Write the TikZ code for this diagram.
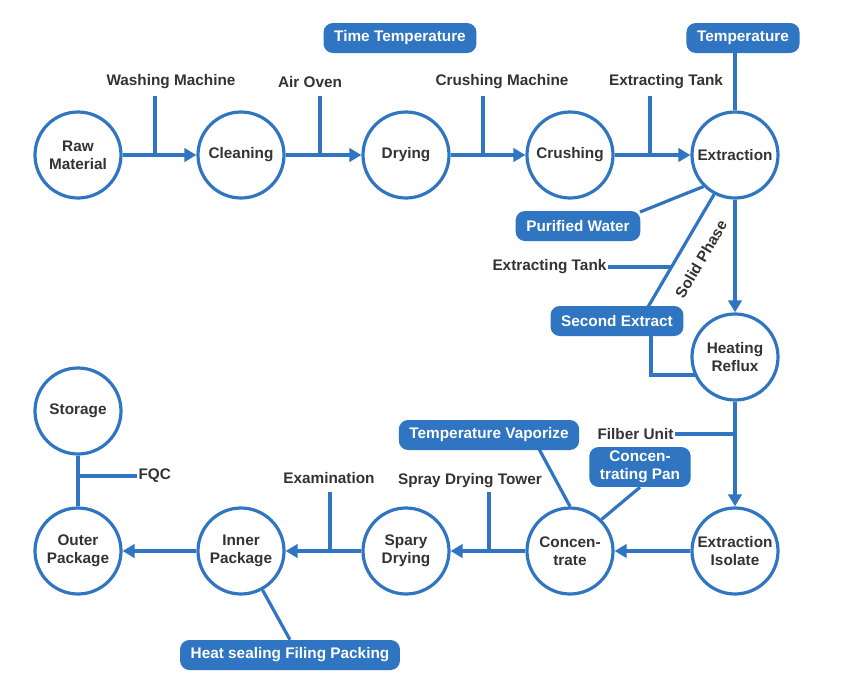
\documentclass[tikz,border=0pt]{standalone}
\usepackage{fontspec}
\setmainfont{Liberation Sans}
\usetikzlibrary{arrows.meta}
\definecolor{bl}{HTML}{2F75C1}
\definecolor{tx}{HTML}{333333}
\begin{document}
\begin{tikzpicture}[x=0.75pt,y=-0.75pt,
  st/.style={circle,draw=bl,line width=2.4pt,minimum size=86*0.75pt,inner sep=0pt,align=center,font=\bfseries\fontsize{11.5}{13.5}\selectfont,text=tx,fill=white},
  bx/.style={rounded corners=7pt,fill=bl,text=white,font=\bfseries\fontsize{11.5}{13.5}\selectfont,inner xsep=8pt,minimum height=30*0.75pt,align=center},
  lb/.style={font=\bfseries\fontsize{11.5}{13.5}\selectfont,text=tx,inner sep=1pt},
  ln/.style={draw=bl,line width=2.4pt},
  ar/.style={ln,-{Triangle[length=9pt,width=10pt]}}]
\useasboundingbox (0,0) rectangle (843,697);
\node[st] (raw) at (78,155) {Raw\\Material};
\node[st] (cle) at (241,155) {Cleaning};
\node[st] (dry) at (406,155) {Drying};
\node[st] (cru) at (570,155) {Crushing};
\node[st] (ext) at (735,155) {Extraction};
\node[st] (hea) at (735,357) {Heating\\Reflux};
\node[st] (iso) at (735,551) {Extraction\\Isolate};
\node[st] (con) at (570,551) {Concen-\\trate};
\node[st] (spa) at (406,551) {Spary\\Drying};
\node[st] (inn) at (241,551) {Inner\\Package};
\node[st] (out) at (78,551) {Outer\\Package};
\node[st] (sto) at (78,411) {Storage};
\node[bx] (tt) at (400,38) {Time Temperature};
\node[bx] (tmp) at (743,38) {Temperature};
\node[bx] (pw) at (578,226) {Purified Water};
\node[bx] (se) at (617,321) {Second Extract};
\node[bx] (tv) at (489,435) {Temperature Vaporize};
\node[bx,minimum height=0pt,inner ysep=3pt] (cp) at (640,467) {Concen-\\trating Pan};
\node[bx] (hs) at (290,655) {Heat sealing Filing Packing};
\node[lb] (wm) at (171,82) {Washing Machine};
\node[lb] (ao) at (310,82) {Air Oven};
\node[lb] (cm) at (502,82) {Crushing Machine};
\node[lb] (et1) at (666,82) {Extracting Tank};
\node[lb,anchor=east] (et2) at (608,267) {Extracting Tank};
\node[lb,anchor=east] (fu) at (675,434) {Filber Unit};
\node[lb] (sdt) at (470,481) {Spray Drying Tower};
\node[lb] (exa) at (329,478) {Examination};
\node[lb,anchor=west] (fqc) at (137,476) {FQC};
\node[lb,rotate=59.6] (sph) at (701,259) {Solid Phase};
\draw[ar] (raw) -- (cle);
\draw[ar] (cle) -- (dry);
\draw[ar] (dry) -- (cru);
\draw[ar] (cru) -- (ext);
\draw[ar] (ext) -- (hea);
\draw[ar] (hea) -- (iso);
\draw[ar] (iso) -- (con);
\draw[ar] (con) -- (spa);
\draw[ar] (spa) -- (inn);
\draw[ar] (inn) -- (out);
\draw[ln] (sto) -- (out);
\draw[ln] (155,96) -- (155,155);
\draw[ln] (320,96) -- (320,155);
\draw[ln] (483,96) -- (483,155);
\draw[ln] (650,96) -- (650,155);
\draw[ln] (tmp.south -| ext) -- (ext);
\coordinate (pwt) at (640,212);
\draw[ln] (pwt) -- (ext.south west);
\coordinate (sp) at (648,307);
\draw[ln] (ext.-118) -- (sp);
\draw[ln] (et2.east) -- (671,267);
\draw[ln] (651,335) |- (hea.west |- 0,375) -- ++(5,0);
\draw[ln] (fu.east) -- (735,434);
\coordinate (tvb) at (539,449);
\draw[ln] (tvb) -- (con.north);
\draw[ln] (cp.south) -- (con.north east);
\draw[ln] (489,492) -- (489,551);
\draw[ln] (330,492) -- (330,551);
\draw[ln] (78,476) -- (fqc.west);
\draw[ln] (inn) -- (hs.north);
\end{tikzpicture}
\end{document}
